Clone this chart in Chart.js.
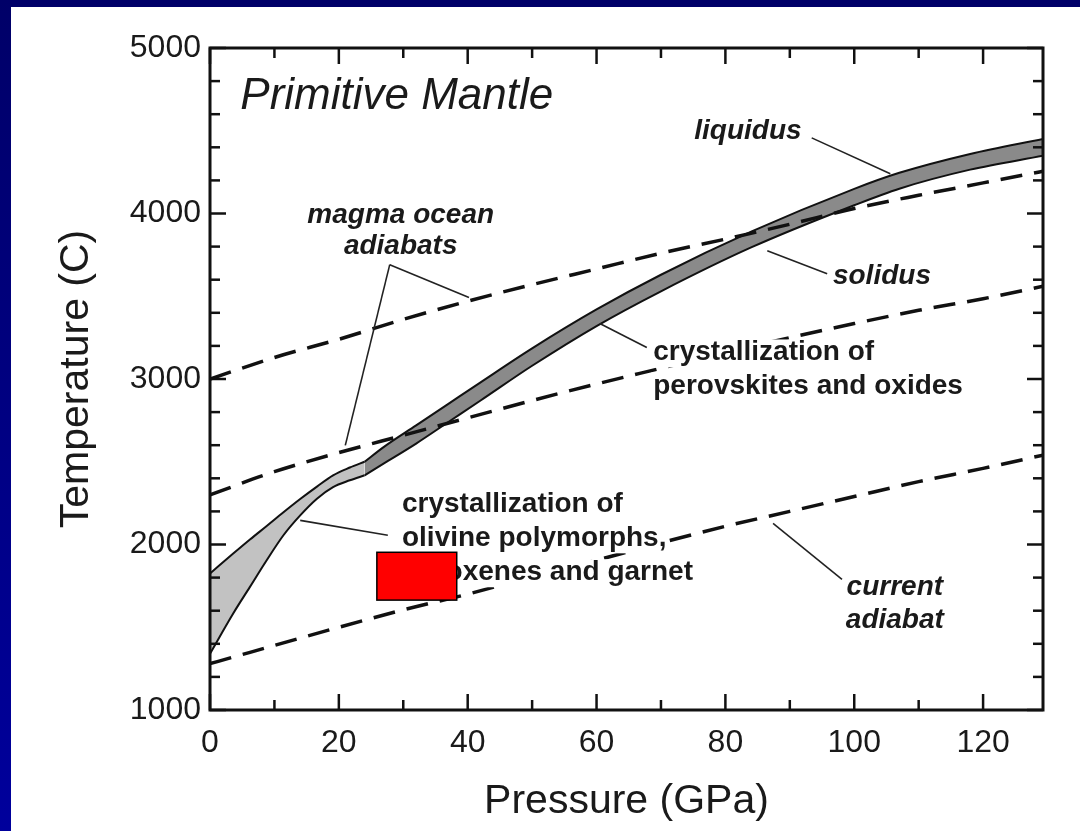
<!DOCTYPE html>
<html>
<head>
<meta charset="utf-8">
<script src="https://cdn.jsdelivr.net/npm/chart.js@4/dist/chart.umd.min.js"></script>
<style>
    html, body { margin: 0; padding: 0; overflow: hidden; }
    body { width: 1080px; height: 831px; background: linear-gradient(to bottom, #000068, #00009c); }
    #phase { position: absolute; left: 0; top: 0; }
</style>
</head>
<body>
<canvas id="phase" width="1080" height="831"></canvas>
<script>
// pressure (GPa) samples and temperatures (C)
const adiabatPressure = [0, 10, 20, 30, 40, 50, 60, 70, 80, 90, 100, 110, 120, 129.3];
const upperAdiabat = [3000, 3130, 3240, 3360, 3470, 3570, 3665, 3760, 3845, 3935, 4030, 4110, 4185, 4255];
const middleAdiabat = [2300, 2440, 2555, 2660, 2765, 2870, 2970, 3065, 3160, 3250, 3335, 3415, 3485, 3560];
const currentAdiabat = [1280, 1390, 1500, 1605, 1700, 1805, 1905, 2010, 2110, 2200, 2290, 2380, 2460, 2540];

const lowPressure = [0, 3.6, 6.2, 8.8, 11.4, 14, 16.6, 19.1, 21.7, 24];
const lowLiquidus = [1825, 1945, 2030, 2112, 2195, 2275, 2350, 2418, 2465, 2500];
const lowSolidus = [1340, 1583, 1744, 1905, 2056, 2176, 2277, 2347, 2388, 2418];

const highPressure = [24, 27, 32, 37, 42, 50, 60, 70, 84, 100, 107, 118, 129.3];
const highLiquidus = [2500, 2590, 2720, 2850, 2980, 3185, 3420, 3630, 3890, 4149, 4246, 4360, 4451];
const highSolidus = [2418, 2490, 2610, 2740, 2870, 3080, 3320, 3530, 3795, 4050, 4150, 4265, 4349];

const xTicks = [0, 20, 40, 60, 80, 100, 120];
const yTicks = [1000, 2000, 3000, 4000, 5000];

// annotation text: [text, pressure, temperature, align, style]
const notes = [
    ['Primitive Mantle', 4.7, 4632, 'left', 'italic 44px'],
    ['magma ocean', 29.6, 3944, 'center', 'italic bold 28px'],
    ['adiabats', 29.6, 3757, 'center', 'italic bold 28px'],
    ['liquidus', 83.5, 4451, 'center', 'italic bold 28px'],
    ['solidus', 104.3, 3576, 'center', 'italic bold 28px'],
    ['crystallization of', 68.8, 3112, 'left', 'bold 28px'],
    ['perovskites and oxides', 68.8, 2912, 'left', 'bold 28px'],
    ['crystallization of', 29.8, 2195, 'left', 'bold 28px'],
    ['olivine polymorphs,', 29.8, 1989, 'left', 'bold 28px'],
    ['pyroxenes and garnet', 29.8, 1784, 'left', 'bold 28px'],
    ['current', 106.3, 1694, 'center', 'italic bold 28px'],
    ['adiabat', 106.3, 1495, 'center', 'italic bold 28px']
];
// leader lines: [p1, t1, p2, t2]
const leaders = [
    [93.4, 4457, 105.6, 4240],
    [86.5, 3775, 95.8, 3636],
    [60.5, 3335, 67.8, 3190],
    [14.0, 2146, 27.6, 2056],
    [27.9, 3691, 40.2, 3492],
    [27.9, 3691, 21.0, 2599],
    [87.4, 2128, 98.1, 1790]
];
// red box over the figure: [p1, t1, p2, t2]
const redBox = [25.9, 1953, 38.3, 1664];

const FONT = "'Liberation Sans', Arial, sans-serif";

function pts(xs, ys) {
    return xs.map((x, i) => ({ x: x, y: ys[i] }));
}

const dashed = (data) => ({
    data: data,
    borderColor: '#111',
    borderWidth: 3.5,
    borderDash: [22, 12],
    pointRadius: 0,
    cubicInterpolationMode: 'monotone',
    fill: false
});

const band = (data, fill, color) => ({
    data: data,
    borderColor: '#111',
    borderWidth: 2,
    pointRadius: 0,
    cubicInterpolationMode: 'monotone',
    fill: fill,
    backgroundColor: color
});

const decor = {
    id: 'decor',
    beforeDraw(chart) {
        const c = chart.ctx;
        c.save();
        c.fillStyle = '#ffffff';
        c.fillRect(11, 7, chart.width - 11, chart.height - 7);
        c.restore();
    },
    afterDatasetsDraw(chart) {
        const { ctx: c, chartArea: a, scales: { x, y } } = chart;
        c.save();

        // texts sit on white boxes that hide the lines behind them
        c.textBaseline = 'alphabetic';
        notes.forEach(n => {
            c.font = n[4] + ' ' + FONT;
            c.textAlign = n[3];
            const tx = x.getPixelForValue(n[1]), ty = y.getPixelForValue(n[2]);
            const w = c.measureText(n[0]).width;
            const left = n[3] === 'center' ? tx - w / 2 : tx;
            c.fillStyle = '#ffffff';
            c.fillRect(left - 2, ty - 21, w + 4, 28);
            c.fillStyle = '#1a1a1a';
            c.fillText(n[0], tx, ty);
        });

        // leaders
        c.strokeStyle = '#222';
        c.lineWidth = 1.6;
        leaders.forEach(l => {
            c.beginPath();
            c.moveTo(x.getPixelForValue(l[0]), y.getPixelForValue(l[1]));
            c.lineTo(x.getPixelForValue(l[2]), y.getPixelForValue(l[3]));
            c.stroke();
        });

        // red box
        const bx = x.getPixelForValue(redBox[0]), by = y.getPixelForValue(redBox[1]);
        const bw = x.getPixelForValue(redBox[2]) - bx, bh = y.getPixelForValue(redBox[3]) - by;
        c.fillStyle = '#ff0000';
        c.fillRect(bx, by, bw, bh);
        c.strokeStyle = '#000';
        c.lineWidth = 1.5;
        c.strokeRect(bx, by, bw, bh);

        // frame and inward ticks
        c.strokeStyle = '#111';
        c.lineWidth = 3;
        c.strokeRect(a.left, a.top, a.right - a.left, a.bottom - a.top);
        c.lineWidth = 2.5;
        const seg = (x1, y1, x2, y2) => { c.beginPath(); c.moveTo(x1, y1); c.lineTo(x2, y2); c.stroke(); };
        for (let v = 0; v <= x.max; v += 10) {
            const px = x.getPixelForValue(v);
            const len = v % 20 === 0 ? 16 : 10;
            seg(px, a.bottom, px, a.bottom - len);
            seg(px, a.top, px, a.top + len);
        }
        for (let v = 1000; v <= 5000; v += 200) {
            const py = y.getPixelForValue(v);
            const len = v % 1000 === 0 ? 16 : 10;
            seg(a.left, py, a.left + len, py);
            seg(a.right, py, a.right - len, py);
        }
        c.restore();
    }
};

new Chart(document.getElementById('phase').getContext('2d'), {
    type: 'line',
    data: {
        datasets: [
            dashed(pts(adiabatPressure, upperAdiabat)),
            dashed(pts(adiabatPressure, middleAdiabat)),
            dashed(pts(adiabatPressure, currentAdiabat)),
            band(pts(lowPressure, lowLiquidus), false),
            band(pts(lowPressure, lowSolidus), '-1', '#c2c2c2'),
            band(pts(highPressure, highLiquidus), false),
            band(pts(highPressure, highSolidus), '-1', '#8a8a8a')
        ]
    },
    options: {
        responsive: false,
        animation: false,
        layout: { padding: { top: 48, right: 37, left: 0, bottom: 0 } },
        plugins: {
            legend: { display: false },
            tooltip: { enabled: false }
        },
        scales: {
            x: {
                type: 'linear',
                min: 0,
                max: 129.3,
                afterFit: s => { s.height = 121; },
                grid: { display: false },
                border: { display: false },
                ticks: {
                    stepSize: 20,
                    includeBounds: false,
                    autoSkip: false,
                    maxRotation: 0,
                    padding: 6,
                    color: '#1a1a1a',
                    font: { size: 32, family: FONT },
                    callback: v => xTicks.includes(v) ? String(v) : ''
                },
                title: {
                    display: true,
                    text: 'Pressure (GPa)',
                    color: '#1a1a1a',
                    font: { size: 41, family: FONT },
                    padding: { top: 0, bottom: 5 }
                }
            },
            y: {
                type: 'linear',
                min: 1000,
                max: 5000,
                afterFit: s => { s.width = 210; },
                grid: { display: false },
                border: { display: false },
                ticks: {
                    stepSize: 1000,
                    padding: 1,
                    color: '#1a1a1a',
                    font: { size: 32, family: FONT },
                    callback: v => yTicks.includes(v) ? String(v) : ''
                },
                title: {
                    display: true,
                    text: 'Temperature (C)',
                    color: '#1a1a1a',
                    font: { size: 41, family: FONT },
                    padding: { top: 52, bottom: 0 }
                }
            }
        }
    },
    plugins: [decor]
});
</script>
</body>
</html>
